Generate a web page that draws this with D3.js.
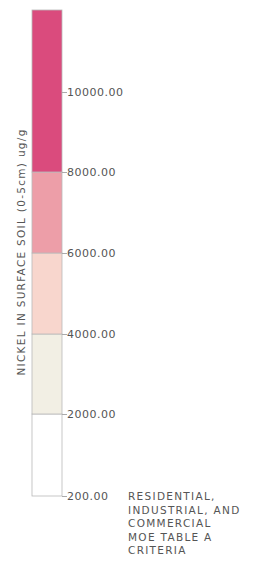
<!DOCTYPE html>
<html>
<head>
<meta charset="utf-8">
<script src="https://cdn.jsdelivr.net/npm/d3@7"></script>
<style>
body { margin: 0; background: #fff; }
</style>
</head>
<body>
<script>
// class breaks (ug/g), bottom to top
var breaks = [200, 2000, 4000, 6000, 8000, 10000, 12000];
var tickLabels = [200, 2000, 4000, 6000, 8000, 10000];
var classes = [
    {lo: 200, hi: 2000, color: "#ffffff"},
    {lo: 2000, hi: 4000, color: "#f2efe4"},
    {lo: 4000, hi: 6000, color: "#f8d6cd"},
    {lo: 6000, hi: 8000, color: "#ed9ea8"},
    {lo: 8000, hi: 12000, color: "#da4b7d"}
];
var titleText = "NICKEL IN SURFACE SOIL (0-5cm) ug/g";
var noteLines = ["RESIDENTIAL,", "INDUSTRIAL, AND", "COMMERCIAL", "MOE TABLE A", "CRITERIA"];

var width = 254;
var height = 581;
var barX = 32;
var barW = 30;

var svg = d3.select("body").append("svg")
    .attr("width", width)
    .attr("height", height);

// legend steps are evenly spaced, not proportional to value
var y = d3.scaleLinear()
    .domain(breaks)
    .range([496, 414, 334, 253, 172, 92, 10]);

svg.selectAll("rect.cls")
    .data(classes)
    .enter()
    .append("rect")
    .attr("class", "cls")
    .attr("x", barX)
    .attr("y", function(d) { return y(d.hi); })
    .attr("width", barW)
    .attr("height", function(d) { return y(d.lo) - y(d.hi); })
    .attr("fill", function(d) { return d.color; })
    .attr("stroke", "#b8b8b8")
    .attr("stroke-width", 0.8);

// axis with tick labels
var axis = d3.axisRight(y)
    .tickValues(tickLabels)
    .tickSize(5)
    .tickFormat(d3.format(".2f"));

var g = svg.append("g")
    .attr("transform", "translate(" + (barX + barW) + ",0)")
    .call(axis);

g.select(".domain").remove();
g.selectAll(".tick line")
    .attr("stroke", "#aaaaaa");
g.selectAll(".tick text")
    .attr("x", 5)
    .attr("fill", "#555")
    .attr("font-family", "DejaVu Sans, sans-serif")
    .attr("font-size", "11px")
    .attr("letter-spacing", "0.5px");

// rotated title
svg.append("text")
    .attr("transform", "translate(25," + 252 + ") rotate(-90)")
    .attr("text-anchor", "middle")
    .attr("fill", "#555")
    .attr("font-family", "DejaVu Sans, sans-serif")
    .attr("font-size", "10.5px")
    .attr("letter-spacing", "1.3px")
    .text(titleText);

// criteria note
svg.selectAll("text.note")
    .data(noteLines)
    .enter()
    .append("text")
    .attr("class", "note")
    .attr("x", 128)
    .attr("y", function(d, i) { return 500 + i * 13.5; })
    .attr("fill", "#555")
    .attr("font-family", "DejaVu Sans, sans-serif")
    .attr("font-size", "10.5px")
    .attr("letter-spacing", "1.3px")
    .text(function(d) { return d; });
</script>
</body>
</html>
